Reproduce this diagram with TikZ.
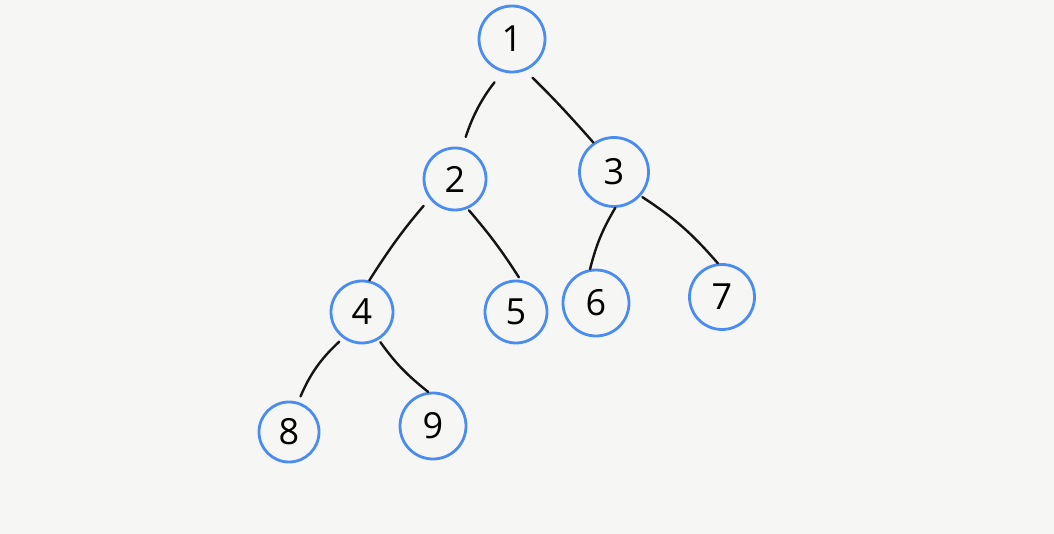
\documentclass[tikz,border=0pt]{standalone}
\usepackage{fontspec}
\setmainfont{Open Sans}
\definecolor{paper}{HTML}{F6F6F4}
\definecolor{ring}{HTML}{4A8CF0}
\begin{document}
\begin{tikzpicture}[x=1pt,y=-1pt,
  tn/.style={circle,draw=ring,line width=2.8pt,inner sep=0pt,font=\fontsize{36}{36}\selectfont},
  edge/.style={line width=2.4pt,line cap=round,black!92}]
\fill[paper] (0,0) rectangle (1054,534);
\useasboundingbox (0,0) rectangle (1054,534);
\node[tn,minimum size=66pt] (n1) at (512,39) {1};
\node[tn,minimum size=62pt] (n2) at (455,179) {2};
\node[tn,minimum size=69pt] (n3) at (614,172) {3};
\node[tn,minimum size=62pt] (n4) at (362,312) {4};
\node[tn,minimum size=62pt] (n5) at (516,312) {5};
\node[tn,minimum size=66pt] (n6) at (596,303) {6};
\node[tn,minimum size=65pt] (n7) at (722,297) {7};
\node[tn,minimum size=60pt] (n8) at (289,432) {8};
\node[tn,minimum size=66pt] (n9) at (433,426) {9};
\draw[edge,shorten <=13pt,shorten >=11pt] (n1.-106) to[bend right=10] (n2.77);
\draw[edge,shorten <=10pt,shorten >=0pt] (n1.-67) to[bend left=2] (n3.125);
\draw[edge,shorten <=9pt,shorten >=0pt] (n2.-142) to[bend right=4] (n4.77);
\draw[edge,shorten <=2pt,shorten >=3pt] (n2.-67) to[bend left=4] (n5.82);
\draw[edge,shorten <=0pt,shorten >=0pt] (n3.-88) to[bend right=8] (n6.100);
\draw[edge,shorten <=2pt,shorten >=0pt] (n3.-42) to[bend left=8] (n7.97);
\draw[edge,shorten <=5pt,shorten >=6pt] (n4.-126) to[bend right=12] (n8.73);
\draw[edge,shorten <=3pt,shorten >=0pt] (n4.-59) to[bend right=8] (n9.98);
\end{tikzpicture}
\end{document}
